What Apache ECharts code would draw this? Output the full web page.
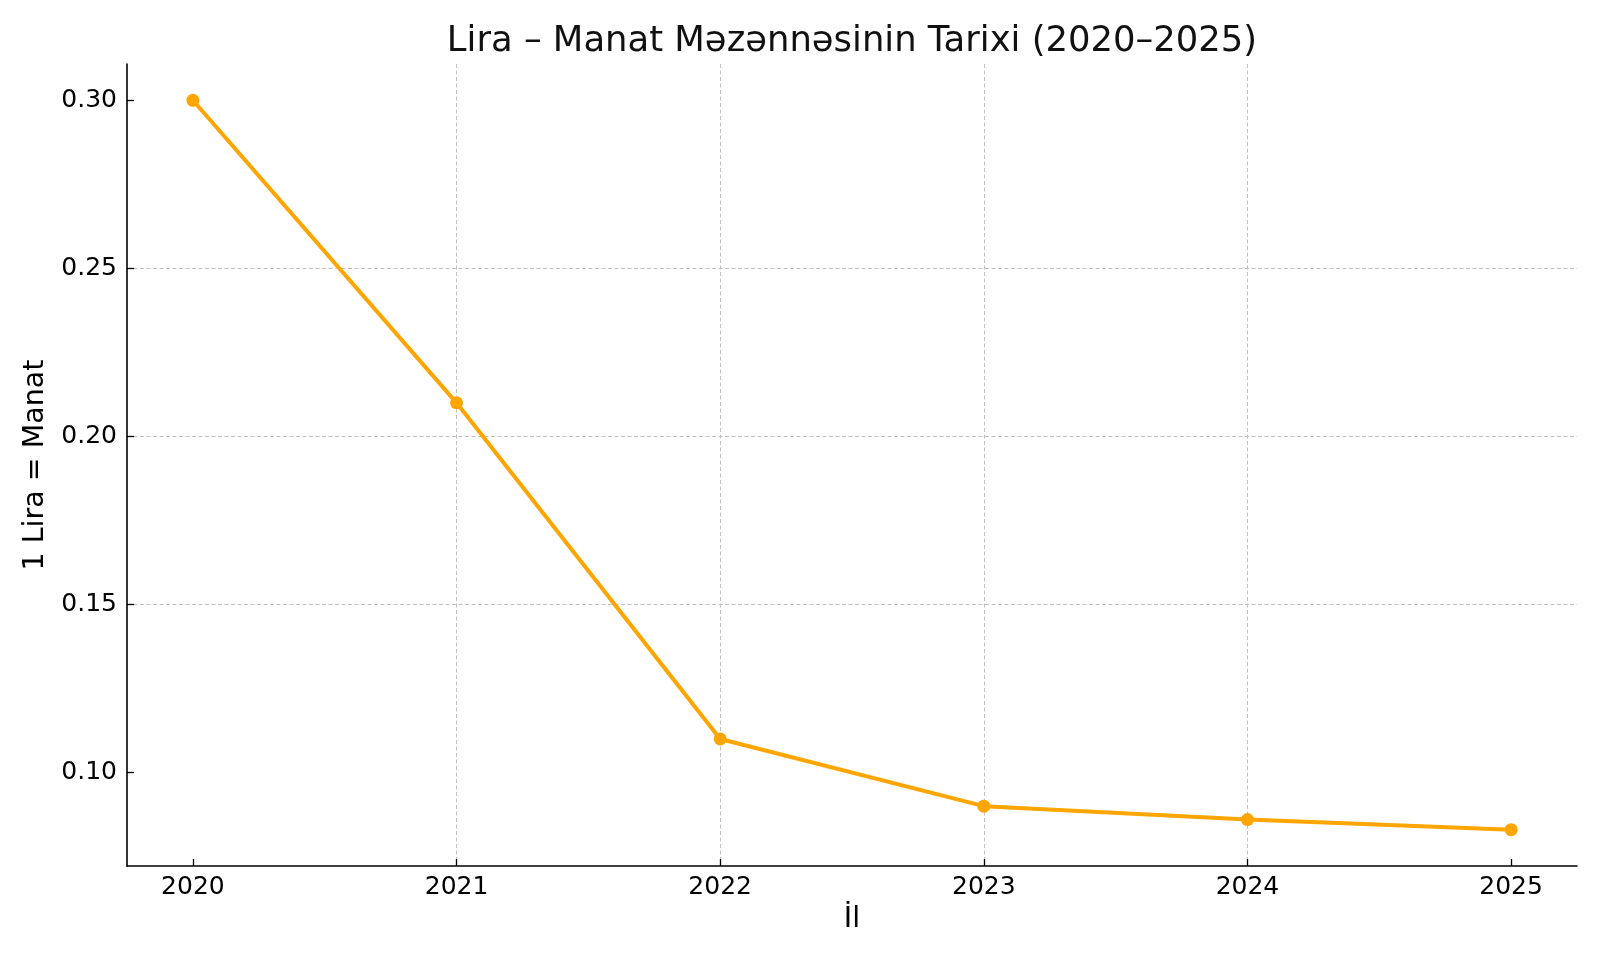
<!DOCTYPE html>
<html><head><meta charset="utf-8">
<script src="https://cdn.jsdelivr.net/npm/echarts@6/dist/echarts.min.js"></script>
<style>html,body{margin:0;padding:0;background:#fff}#c{width:1600px;height:960px}</style>
</head><body><div id="c"></div>
<script>
const years = [2020, 2021, 2022, 2023, 2024, 2025];
const rates = [0.30, 0.21, 0.11, 0.09, 0.086, 0.083];
const yTicks = [0.10, 0.15, 0.20, 0.25, 0.30];
const xTicks = [2020, 2021, 2022, 2023, 2024, 2025];
const titleText = 'Lira – Manat Məzənnəsinin Tarixi (2020–2025)';
const xName = 'İl';
const yName = '1 Lira = Manat';

const FONT = 'DejaVu Sans';
const chart = echarts.init(document.getElementById('c'), null, {renderer: 'canvas'});
const gridStyle = {color: '#c0c0c0', width: 1, type: [4, 2.5]};
chart.setOption({
  animation: false,
  backgroundColor: '#ffffff',
  title: {
    text: titleText, left: 852, top: 24, textAlign: 'center', padding: 0,
    textStyle: {fontFamily: FONT, fontSize: 35.4, fontWeight: 'normal', color: '#111'}
  },
  grid: {left: 127, right: 23, top: 64, bottom: 94, containLabel: false},
  xAxis: {
    type: 'value', min: 2019.75, max: 2025.25,
    name: xName, nameLocation: 'middle', nameGap: 39,
    nameTextStyle: {fontFamily: FONT, fontSize: 28.5, color: '#000'},
    axisLine: {show: true, lineStyle: {color: '#000', width: 1.6}},
    axisTick: {show: true, inside: true, length: 7, customValues: xTicks, lineStyle: {color: '#000', width: 1.3}},
    axisLabel: {customValues: xTicks, formatter: v => String(v), margin: 9, fontFamily: FONT, fontSize: 25, color: '#000'},
    splitLine: {show: true, showMinLine: false, showMaxLine: false, lineStyle: gridStyle}
  },
  yAxis: {
    type: 'value', min: 0.0722, max: 0.3108,
    name: yName, nameLocation: 'middle', nameRotate: 90, nameGap: 74,
    nameTextStyle: {fontFamily: FONT, fontSize: 28.5, color: '#000'},
    axisLine: {show: true, lineStyle: {color: '#000', width: 1.6}},
    axisTick: {show: true, inside: true, length: 7, customValues: yTicks, lineStyle: {color: '#000', width: 1.3}},
    axisLabel: {customValues: yTicks, formatter: v => v.toFixed(2), margin: 10, fontFamily: FONT, fontSize: 25, color: '#000'},
    splitLine: {show: true, showMinLine: false, showMaxLine: false, lineStyle: gridStyle}
  },
  series: [{
    type: 'line',
    data: years.map((y, i) => [y, rates[i]]),
    lineStyle: {color: '#FFA500', width: 4},
    itemStyle: {color: '#FFA500'},
    symbol: 'circle', symbolSize: 13, showSymbol: true
  }]
});
</script></body></html>
